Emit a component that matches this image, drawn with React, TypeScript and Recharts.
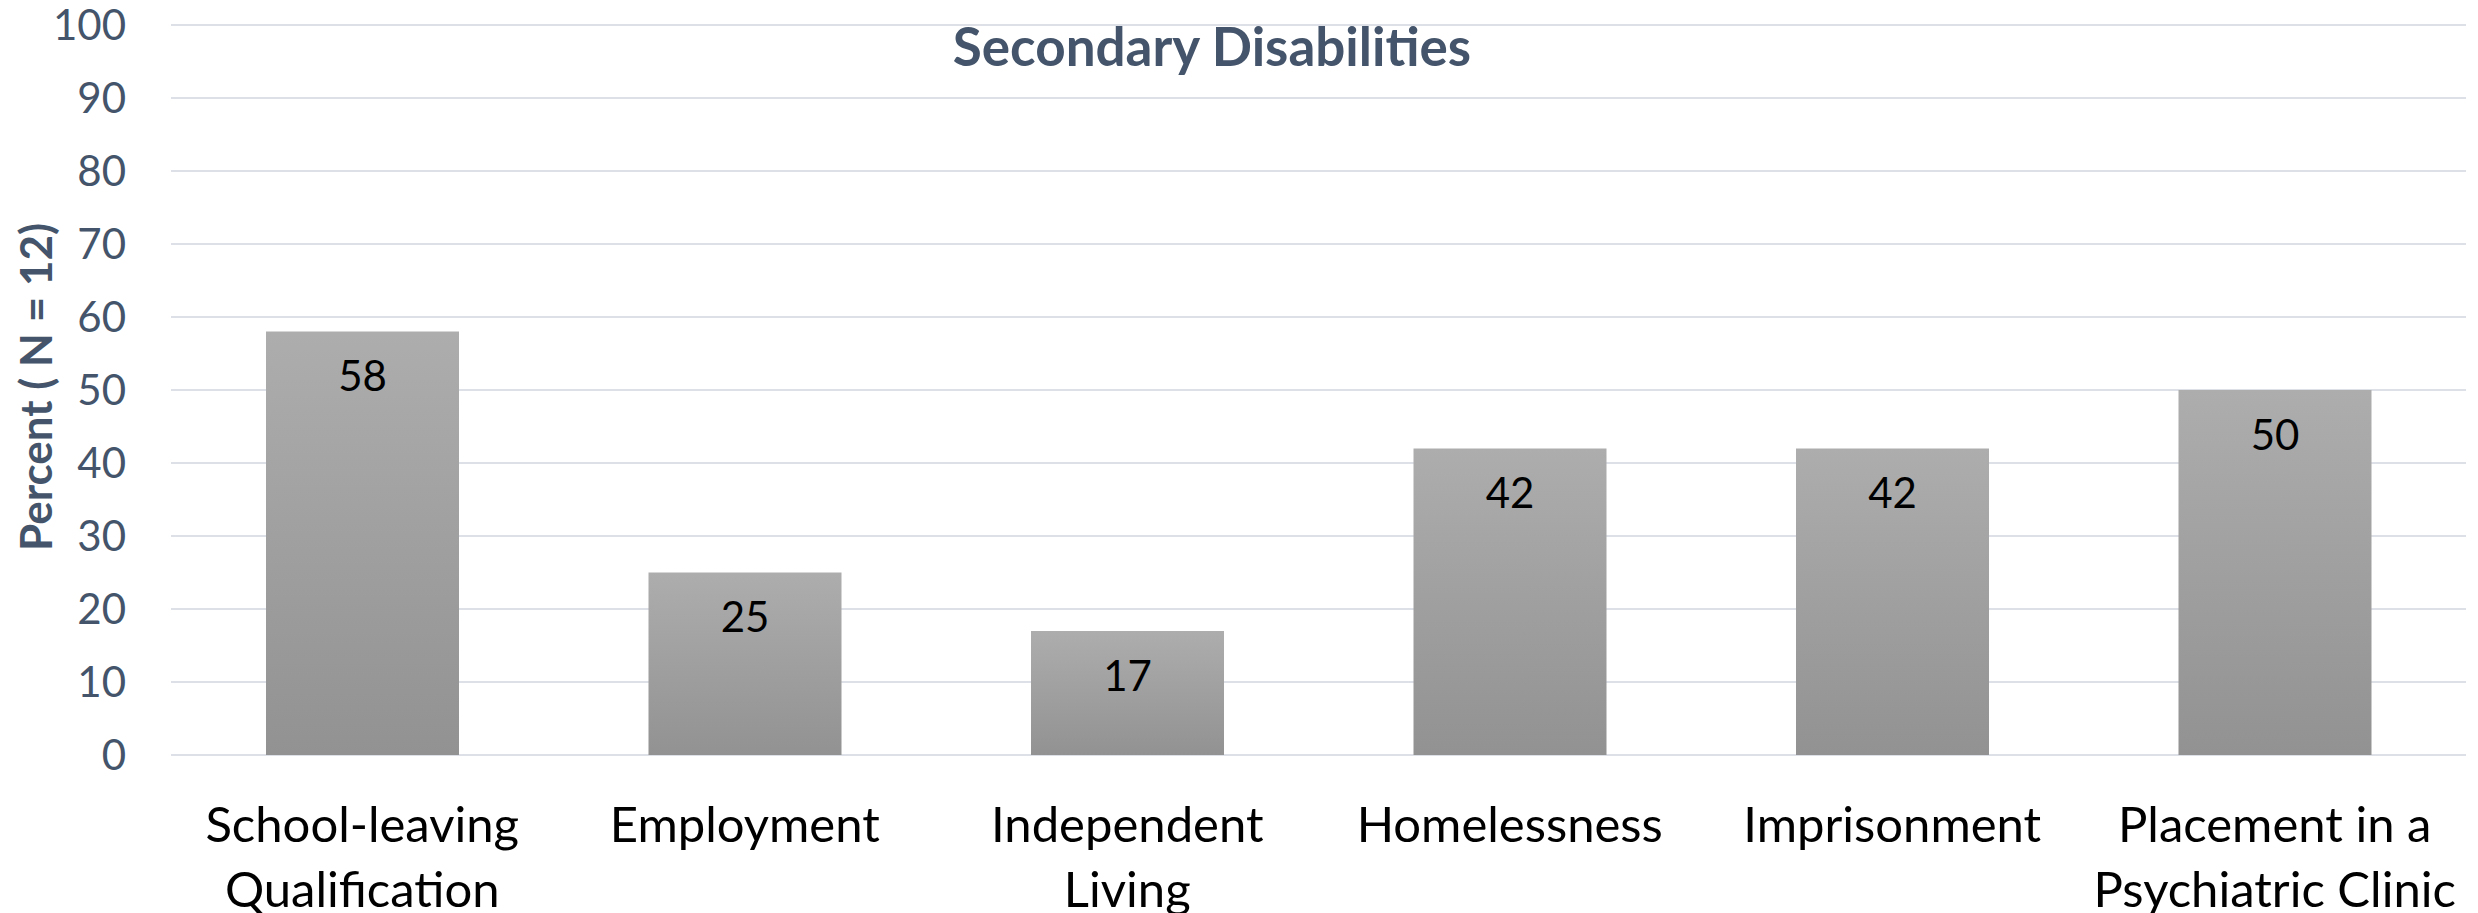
import React from "react"
import { BarChart, Bar, XAxis, YAxis, CartesianGrid, LabelList } from "recharts"

const categories = [
  ["School-leaving", "Qualification"],
  ["Employment"],
  ["Independent", "Living"],
  ["Homelessness"],
  ["Imprisonment"],
  ["Placement in a", "Psychiatric Clinic"],
]
const percents = [58, 25, 17, 42, 42, 50]
const yTicks = [0, 10, 20, 30, 40, 50, 60, 70, 80, 90, 100]

const data = categories.map((lines, i) => ({
  name: lines.join(" "),
  lines,
  value: percents[i],
}))

const FONT = "Lato, 'Open Sans', sans-serif"
const SLATE = "#44546A"

function CategoryTick(props: any) {
  const { x, y, index } = props
  const lines = categories[index] || []
  return (
    <text x={x} y={y} textAnchor="middle" fill="#000" fontFamily={FONT} fontSize={49}>
      {lines.map((l, i) => (
        <tspan key={i} x={x} dy={i === 0 ? 79 : 65}>
          {l}
        </tspan>
      ))}
    </text>
  )
}

export default function App() {
  return (
    <div style={{ position: "relative", width: 2478, height: 913, background: "#fff" }}>
      <style>{`body{margin:0}`}</style>
      <div
        style={{
          position: "absolute",
          left: 0,
          width: 2424,
          top: 14,
          textAlign: "center",
          fontFamily: FONT,
          fontWeight: 700,
          fontSize: 53,
          color: SLATE,
          pointerEvents: "none",
          zIndex: 1,
        }}
      >
        Secondary Disabilities
      </div>
      <BarChart
        width={2478}
        height={913}
        data={data}
        margin={{ top: 25, right: 12, left: 0, bottom: 0 }}
      >
        <defs>
          <linearGradient id="barGrad" x1="0" y1="0" x2="0" y2="1">
            <stop offset="0%" stopColor="#adadad" />
            <stop offset="100%" stopColor="#929292" />
          </linearGradient>
        </defs>
        <CartesianGrid vertical={false} stroke="#dde1e7" strokeWidth={2} />
        <XAxis
          dataKey="name"
          axisLine={false}
          tickLine={false}
          interval={0}
          height={158}
          tick={<CategoryTick />}
        />
        <YAxis
          domain={[0, 100]}
          ticks={yTicks}
          width={171}
          axisLine={false}
          tickLine={false}
          tickSize={0}
          tickMargin={45}
          tick={{ fill: SLATE, fontSize: 42, fontFamily: FONT }}
          label={{
            content: () => (
              <text
                x={35}
                y={387}
                transform="rotate(-90 35 387)"
                textAnchor="middle"
                dominantBaseline="central"
                fill={SLATE}
                fontFamily={FONT}
                fontWeight={700}
                fontSize={44}
              >
                Percent ( N = 12)
              </text>
            ),
          }}
        />
        <Bar dataKey="value" fill="url(#barGrad)" barSize={193} isAnimationActive={false}>
          <LabelList
            dataKey="value"
            position="insideTop"
            offset={30}
            fill="#000"
            fontFamily={FONT}
            fontSize={42}
          />
        </Bar>
      </BarChart>
    </div>
  )
}
